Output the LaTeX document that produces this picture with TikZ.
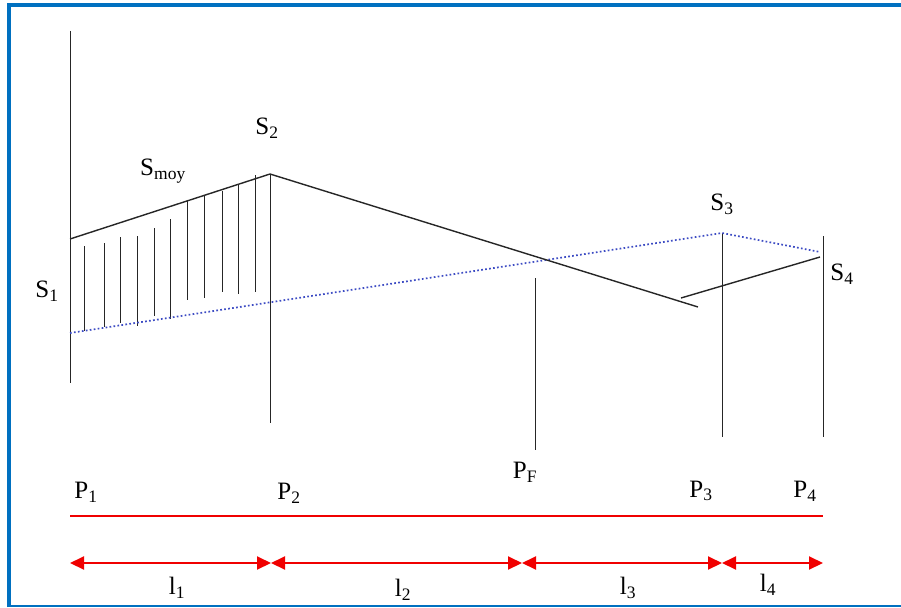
\documentclass[tikz,border=0pt]{standalone}
\usepackage{fontspec}
\setmainfont{Liberation Serif}
\definecolor{framecolor}{RGB}{0,112,192}
\definecolor{dotblue}{RGB}{60,75,195}
\definecolor{dimred}{RGB}{240,0,0}
\usetikzlibrary{arrows.meta}

\begin{document}
\begin{tikzpicture}[x=1pt, y=-1pt,
    label/.style={inner sep=0pt, font=\fontsize{25}{28}\selectfont},
    post/.style={line width=1pt, black!85},
    hatch/.style={line width=0.9pt, black!85},
    profile/.style={line width=1.4pt, black!85},
    trace/.style={line width=1.7pt, dotblue, dash pattern=on 1.7pt off 2.3pt},
    dimline/.style={line width=2pt, dimred},
    dimarrow/.style={dimline, {Triangle[length=14pt,width=13pt]}-{Triangle[length=14pt,width=13pt]}}]
    \useasboundingbox (0,0) rectangle (901,607);

    % Frame
    \draw[framecolor, line width=4pt] (9,607) -- (9,5) -- (901,5);
    \draw[framecolor, line width=1.6pt] (9,606.2) -- (901,606.2);

    % Points
    \coordinate (s1) at (70,239);
    \coordinate (s2) at (270,174);
    \coordinate (e2) at (698,307);
    \coordinate (e3) at (681,298);
    \coordinate (s4) at (820,257);
    \coordinate (d1) at (70,333);
    \coordinate (d3) at (722,233);
    \coordinate (d4) at (820,252);

    % Vertical posts
    \draw[post] (70,31) -- (70,383);
    \draw[post] (270,174) -- (270,423);
    \draw[post] (535,278) -- (535,450);
    \draw[post] (722,233) -- (722,437);
    \draw[post] (823,236) -- (823,437);

    % Hatching
    \foreach \x/\a/\b in {84/246/331, 104/243/327, 120/237/323, 137/236/326,
        154/228/316, 170/219/319, 187/201/300, 204/195/298, 222/191/292,
        238/184/294, 255/175/292}
        \draw[hatch] (\x,\a) -- (\x,\b);

    % Profiles
    \draw[trace] (d1) -- (d3) -- (d4);
    \draw[profile] (s1) -- (s2) -- (e2);
    \draw[profile] (e3) -- (s4);

    % Section labels
    \node[label] (S1) at (47,291) {S\textsubscript{1}};
    \node[label] (Smoy) at (163,171) {S\textsubscript{moy}};
    \node[label] (S2) at (267,128) {S\textsubscript{2}};
    \node[label] (S3) at (722,204) {S\textsubscript{3}};
    \node[label] (S4) at (842,274) {S\textsubscript{4}};

    % Point labels
    \node[label] (P1) at (86,492) {P\textsubscript{1}};
    \node[label] (P2) at (289,493) {P\textsubscript{2}};
    \node[label] (PF) at (525,472) {P\textsubscript{F}};
    \node[label] (P3) at (701,491) {P\textsubscript{3}};
    \node[label] (P4) at (805,491) {P\textsubscript{4}};

    % Axis
    \coordinate (a1) at (70,516);
    \coordinate (a4) at (823,516);
    \draw[dimline] (a1) -- (a4);

    % Lengths
    \coordinate (m1) at (70,563);
    \coordinate (m2) at (271,563);
    \coordinate (mf) at (522,563);
    \coordinate (m3) at (722,563);
    \coordinate (m4) at (823,563);
    \draw[dimarrow] (m1) -- (m2);
    \draw[dimarrow] (m2) -- (mf);
    \draw[dimarrow] (mf) -- (m3);
    \draw[dimarrow] (m3) -- (m4);
    \node[label] (l1) at (177,588) {l\textsubscript{1}};
    \node[label] (l2) at (403,590) {l\textsubscript{2}};
    \node[label] (l3) at (628,588) {l\textsubscript{3}};
    \node[label] (l4) at (768,585) {l\textsubscript{4}};
\end{tikzpicture}
\end{document}
